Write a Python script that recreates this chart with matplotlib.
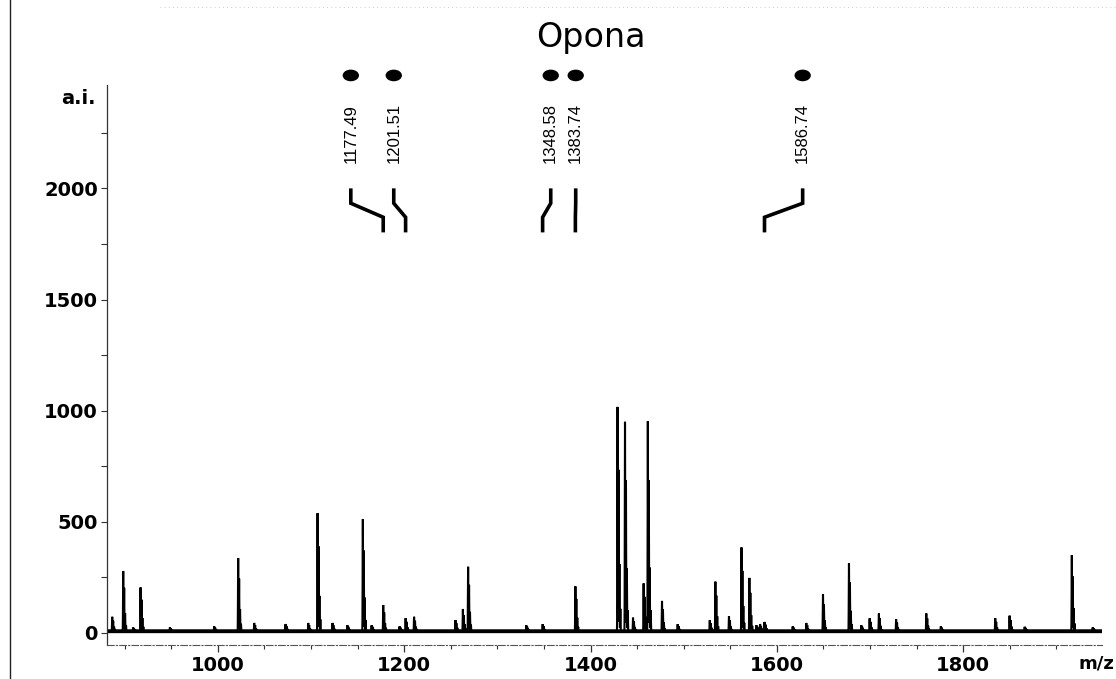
import numpy as np
import matplotlib
matplotlib.use("Agg")
import matplotlib.pyplot as plt
from matplotlib.lines import Line2D
from matplotlib.patches import Ellipse
from matplotlib.ticker import MultipleLocator

# ---- data -------------------------------------------------------------
title = "Opona"

# peak list: m/z and intensity (a.i.)
peak_mz = [886.6, 898.4, 909.0, 917.0, 948.5, 996.0, 1021.8, 1039.0, 1072.6,
           1097.0, 1107.0, 1123.0, 1139.0, 1155.6, 1165.0, 1177.49, 1195.0,
           1201.51, 1210.6, 1255.0, 1263.0, 1268.6, 1331.0, 1348.58, 1383.74,
           1429.0, 1437.0, 1445.6, 1457.0, 1461.5, 1476.7, 1493.5, 1528.0,
           1534.0, 1548.6, 1562.0, 1570.5, 1578.0, 1582.0, 1586.74, 1617.0,
           1631.6, 1649.5, 1677.4, 1690.6, 1699.6, 1709.5, 1728.0, 1760.4,
           1776.0, 1834.4, 1849.8, 1866.0, 1916.6, 1939.0]
peak_int = [73, 279, 25, 205, 25, 30, 337, 45, 40,
            45, 539, 45, 35, 512, 35, 126, 30,
            67, 73, 58, 108, 298, 35, 40, 211,
            1017, 950, 69, 223, 957, 145, 40, 58,
            231, 76, 385, 249, 35, 40, 50, 30,
            45, 175, 313, 35, 66, 88, 62, 88,
            30, 66, 78, 28, 350, 25]

# annotated masses
label_mz = [1177.49, 1201.51, 1348.58, 1383.74, 1586.74]
# where each annotation's dot / text sits along m/z
label_pos = [1142.7, 1188.8, 1357.3, 1384.1, 1627.7]

y_ticks = [0, 500, 1000, 1500, 2000]
x_ticks = [1000, 1200, 1400, 1600, 1800]

# ---- peak shape ---------------------------------------------------------
BASE = 8.0
SIGMA = 0.2
ISOTOPES = (1.0, 0.72, 0.3, 0.1)

mz = np.arange(878.0, 1952.0, 0.04)
signal = np.full_like(mz, BASE)
for m, h in zip(peak_mz, peak_int):
    for k, r in enumerate(ISOTOPES):
        signal += (h - BASE) * r * np.exp(-0.5 * ((mz - (m + k)) / SIGMA) ** 2)

# ---- figure -------------------------------------------------------------
W, H = 1116, 679
fig = plt.figure(figsize=(W / 100, H / 100), dpi=100)
fig.patch.set_facecolor("white")

ax_left, ax_right, ax_top, ax_bot = 107, 1102, 85, 645
ax = fig.add_axes([ax_left / W, 1 - ax_bot / H,
                   (ax_right - ax_left) / W, (ax_bot - ax_top) / H])

ax.plot(mz, signal, color="black", lw=1.5, solid_joinstyle="miter")
ax.plot(mz, np.full_like(mz, BASE), color="black", lw=2.8)

ax.set_xlim(881, 1949)
ax.set_ylim(-54, 2465)

for s in ("top", "right"):
    ax.spines[s].set_visible(False)
ax.spines["left"].set_color("#333333")
ax.spines["left"].set_linewidth(0.9)
ax.spines["bottom"].set_color("#555555")
ax.spines["bottom"].set_linewidth(0.8)
ax.spines["bottom"].set_linestyle((0, (6, 2, 1, 2)))

tick_font = dict(family="DejaVu Sans", weight="bold", size=14)

ax.set_yticks(y_ticks)
ax.set_yticklabels([str(v) for v in y_ticks], **tick_font)
ax.yaxis.set_minor_locator(MultipleLocator(250))
ax.tick_params(axis="y", which="both", direction="out", length=4,
               width=0.8, color="#333333", pad=2.5)

ax.set_xticks(x_ticks)
ax.set_xticklabels([str(v) for v in x_ticks], **tick_font)
ax.xaxis.set_minor_locator(MultipleLocator(50))
ax.tick_params(axis="x", which="major", direction="out", length=5,
               width=0.9, color="#333333", pad=3)
ax.tick_params(axis="x", which="minor", direction="out", length=3,
               width=0.8, color="#333333")

# annotation markers: dot, rotated mass label, bent leader
y_dot, y_text = 2508, 2112
y_l0, y_l1, y_l2, y_l3 = 2000, 1933, 1870, 1802
for m, p in zip(label_mz, label_pos):
    ax.add_patch(Ellipse((p, y_dot), width=16, height=46, color="black",
                         clip_on=False))
    ax.text(p, y_text, f"{m:.2f}", rotation=90, ha="center", va="bottom",
            family="Liberation Sans", size=12, clip_on=False)
    ax.plot([p, p, m, m], [y_l0, y_l1, y_l2, y_l3], color="black", lw=2.6,
            solid_joinstyle="miter", solid_capstyle="butt", clip_on=False)

fig.text(591 / W, 1 - 38 / H, title, ha="center", va="center",
         family="DejaVu Sans", size=24)
fig.text(78 / W, 1 - 98 / H, "a.i.", ha="center", va="center", **tick_font)
fig.text(1096 / W, 1 - 664 / H, "m/z", ha="center", va="center",
         family="DejaVu Sans", weight="bold", size=13)

# page edge rule and faint scan line at the top
fig.add_artist(Line2D([10 / W, 10 / W], [0, 1], color="#222222", lw=1.0))
fig.add_artist(Line2D([160 / W, 1.0], [1 - 7 / H, 1 - 7 / H],
                      color="#bdbdbd", lw=0.6, linestyle=(0, (1, 4))))

fig.savefig("out.png", dpi=100, facecolor="white")
